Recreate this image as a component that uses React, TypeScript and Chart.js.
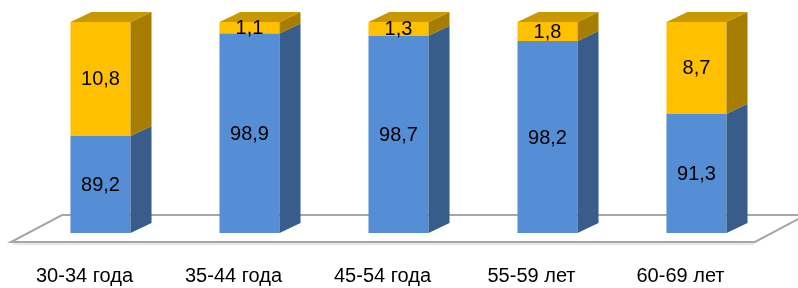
import React, { useEffect, useRef } from "react";
import { Chart, registerables } from "chart.js";

Chart.register(...registerables);

const categories = ["30-34 года", "35-44 года", "45-54 года", "55-59 лет", "60-69 лет"];
const lowerValues = [89.2, 98.9, 98.7, 98.2, 91.3];
const upperValues = [10.8, 1.1, 1.3, 1.8, 8.7];

const FRONT = ["#558ED5", "#FFC000"];
const SIDE = ["#385D8A", "#A67D00"];
const TOP = ["#4A7BB8", "#C99800"];
const DX = 21;
const DY = 10;
const FONT = "'Liberation Sans', Arial, sans-serif";

const fmt = (v: number) => v.toFixed(1).replace(".", ",");

const bar3d = {
  id: "bar3d",
  beforeDatasetsDraw(chart: any) {
    const { ctx, chartArea } = chart;
    const fy = chartArea.bottom + 9;
    const fl = chartArea.left - 15;
    const fr = chartArea.right - 16;
    const bx = 51;
    const by = 27;
    ctx.save();
    ctx.beginPath();
    ctx.moveTo(fl, fy);
    ctx.lineTo(fr, fy);
    ctx.lineTo(fr + bx, fy - by);
    ctx.lineTo(fl + bx, fy - by);
    ctx.closePath();
    ctx.fillStyle = "#FFFFFF";
    ctx.fill();
    ctx.strokeStyle = "#A6A6A6";
    ctx.lineWidth = 2;
    ctx.lineJoin = "miter";
    ctx.stroke();
    ctx.beginPath();
    ctx.moveTo(fl + 2, fy + 2);
    ctx.lineTo(fr - 1, fy + 2);
    ctx.strokeStyle = "#D4D4D4";
    ctx.lineWidth = 1;
    ctx.stroke();
    ctx.restore();
  },
  afterDatasetsDraw(chart: any) {
    const { ctx, chartArea } = chart;
    const nds = chart.data.datasets.length;
    ctx.save();
    for (let d = 0; d < nds; d++) {
      const meta = chart.getDatasetMeta(d);
      meta.data.forEach((el: any) => {
        const right = el.x + el.width / 2;
        const top = Math.max(Math.min(el.y, el.base), chartArea.top);
        const bottom = Math.min(Math.max(el.y, el.base), chartArea.bottom);
        ctx.beginPath();
        ctx.moveTo(right, top);
        ctx.lineTo(right + DX, top - DY);
        ctx.lineTo(right + DX, bottom - DY);
        ctx.lineTo(right, bottom);
        ctx.closePath();
        ctx.fillStyle = SIDE[d];
        ctx.fill();
        if (d === nds - 1) {
          const left = el.x - el.width / 2;
          ctx.beginPath();
          ctx.moveTo(left, top);
          ctx.lineTo(left + DX, top - DY);
          ctx.lineTo(right + DX, top - DY);
          ctx.lineTo(right, top);
          ctx.closePath();
          ctx.fillStyle = TOP[d];
          ctx.fill();
        }
      });
    }
    ctx.font = `20px ${FONT}`;
    ctx.fillStyle = "#000000";
    ctx.textAlign = "center";
    ctx.textBaseline = "middle";
    for (let d = 0; d < nds; d++) {
      const meta = chart.getDatasetMeta(d);
      const values = chart.data.datasets[d].data;
      meta.data.forEach((el: any, i: number) => {
        const top = Math.max(Math.min(el.y, el.base), chartArea.top);
        const bottom = Math.min(Math.max(el.y, el.base), chartArea.bottom);
        ctx.fillText(fmt(values[i]), el.x, (top + bottom) / 2 + 1);
      });
    }
    ctx.restore();
  },
};

export default function App() {
  const ref = useRef<HTMLCanvasElement>(null);
  useEffect(() => {
    if (!ref.current) return;
    const chart = new Chart(ref.current, {
      type: "bar",
      data: {
        labels: categories,
        datasets: [
          { data: lowerValues, backgroundColor: FRONT[0], borderWidth: 0 },
          { data: upperValues, backgroundColor: FRONT[1], borderWidth: 0 },
        ],
      },
      options: {
        responsive: false,
        animation: false,
        layout: { padding: { top: 22, left: 26, right: 27, bottom: 0 } },
        plugins: { legend: { display: false }, tooltip: { enabled: false } },
        datasets: { bar: { categoryPercentage: 1, barPercentage: 0.403 } },
        scales: {
          x: {
            stacked: true,
            grid: { display: false, drawTicks: false },
            border: { display: false },
            ticks: {
              padding: 33,
              labelOffset: -16,
              color: "#000000",
              font: { family: FONT, size: 20, lineHeight: 1 },
            },
            afterFit: (scale: any) => {
              scale.height = 55;
            },
          },
          y: { stacked: true, display: false, min: 80, max: 100 },
        },
      },
      plugins: [bar3d],
    });
    return () => chart.destroy();
  }, []);
  return (
    <div style={{ position: "absolute", left: 0, top: 0, width: 798, height: 288, background: "#fff" }}>
      <canvas ref={ref} width={798} height={288} style={{ display: "block" }} />
    </div>
  );
}
